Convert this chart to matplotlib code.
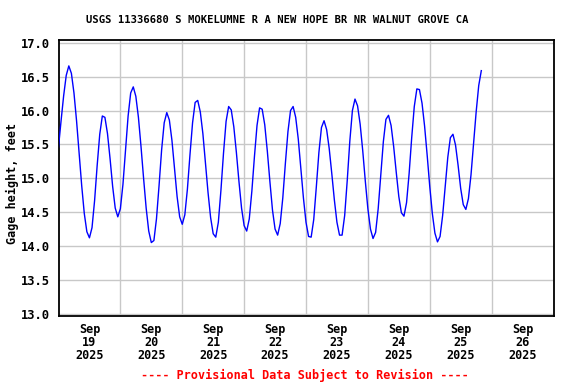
import matplotlib
matplotlib.use("Agg")
import matplotlib.pyplot as plt
import pandas as pd

title = "USGS 11336680 S MOKELUMNE R A NEW HOPE BR NR WALNUT GROVE CA"
ylabel = "Gage height, feet"
footer = "---- Provisional Data Subject to Revision ----"

start_time = "2025-09-19 00:00"
# hourly gage height (feet)
gage_height = [
    15.46, 15.85, 16.22, 16.52, 16.66, 16.55, 16.26, 15.85, 15.37, 14.89,
    14.48, 14.21, 14.12, 14.27, 14.67, 15.19, 15.65, 15.92, 15.90, 15.66,
    15.29, 14.88, 14.56, 14.43, 14.55, 14.91, 15.42, 15.92, 16.26, 16.35,
    16.21, 15.90, 15.47, 15.00, 14.56, 14.22, 14.05, 14.08, 14.40, 14.89,
    15.42, 15.82, 15.97, 15.86, 15.56, 15.15, 14.73, 14.43, 14.32, 14.46,
    14.84, 15.35, 15.82, 16.12, 16.15, 15.98, 15.66, 15.23, 14.79, 14.42,
    14.18, 14.13, 14.35, 14.82, 15.37, 15.84, 16.06, 16.01, 15.76, 15.38,
    14.95, 14.56, 14.30, 14.22, 14.40, 14.81, 15.32, 15.78, 16.04, 16.02,
    15.79, 15.40, 14.95, 14.53, 14.25, 14.16, 14.33, 14.71, 15.22, 15.69,
    16.00, 16.06, 15.90, 15.58, 15.15, 14.71, 14.35, 14.14, 14.13, 14.39,
    14.87, 15.38, 15.75, 15.85, 15.72, 15.44, 15.07, 14.68, 14.35, 14.16,
    14.16, 14.45, 14.97, 15.55, 16.00, 16.17, 16.07, 15.80, 15.41, 14.96,
    14.55, 14.25, 14.11, 14.20, 14.55, 15.05, 15.54, 15.87, 15.93, 15.78,
    15.47, 15.09, 14.73, 14.49, 14.44, 14.64, 15.07, 15.60, 16.06, 16.32,
    16.31, 16.11, 15.77, 15.34, 14.88, 14.48, 14.19, 14.06, 14.14, 14.45,
    14.88, 15.31, 15.60, 15.65, 15.49, 15.19, 14.85, 14.61, 14.54, 14.70,
    15.05, 15.51, 15.98, 16.37, 16.59,
]
day_labels = ["Sep\n19\n2025", "Sep\n20\n2025", "Sep\n21\n2025", "Sep\n22\n2025",
              "Sep\n23\n2025", "Sep\n24\n2025", "Sep\n25\n2025", "Sep\n26\n2025"]
y_ticks = [13.0, 13.5, 14.0, 14.5, 15.0, 15.5, 16.0, 16.5, 17.0]

times = pd.date_range(start_time, periods=len(gage_height), freq="h")

mono = "DejaVu Sans Mono"
fig = plt.figure(figsize=(5.76, 3.84), dpi=100)
ax = fig.add_axes([58.5/576, 1-316/384, (553.5-58.5)/576, (316-39.5)/384])

ax.plot(times, gage_height, color="#0000FF", lw=1.0, zorder=3)

x0 = pd.Timestamp(start_time)
ax.set_xlim(x0, x0 + pd.Timedelta(days=8))
ax.set_ylim(12.965, 17.05)

midnights = [x0 + pd.Timedelta(days=i) for i in range(1, 8)]
noons = [x0 + pd.Timedelta(days=i, hours=12) for i in range(8)]
ax.set_xticks(midnights, minor=False)
ax.set_xticklabels([])
ax.set_xticks(noons, minor=True)
ax.set_xticklabels(day_labels, minor=True, fontfamily=mono, fontweight="bold",
                   fontsize=8.5, linespacing=1.0)
ax.tick_params(axis="x", which="both", length=0, pad=5)
ax.set_yticks(y_ticks)
ax.set_yticklabels([f"{v:.1f}" for v in y_ticks], fontfamily=mono,
                   fontweight="bold", fontsize=8.7)
ax.tick_params(axis="y", length=0, pad=6)

ax.grid(True, which="major", color="#c8c8c8", lw=1.0, zorder=1)
for s in ax.spines.values():
    s.set_linewidth(1.3)
    s.set_color("black")

fig.text(12/576, 1-183/384, ylabel, rotation=90, ha="center", va="center",
         fontfamily=mono, fontweight="bold", fontsize=8.5)
fig.text(277/576, 1-20/384, title, ha="center", va="center",
         fontfamily=mono, fontweight="bold", fontsize=7.6)
fig.text(305/576, 1-375/384, footer, ha="center", va="center", color="#FF0000",
         fontfamily=mono, fontweight="bold", fontsize=8.5)

fig.savefig("out.png", dpi=100)
